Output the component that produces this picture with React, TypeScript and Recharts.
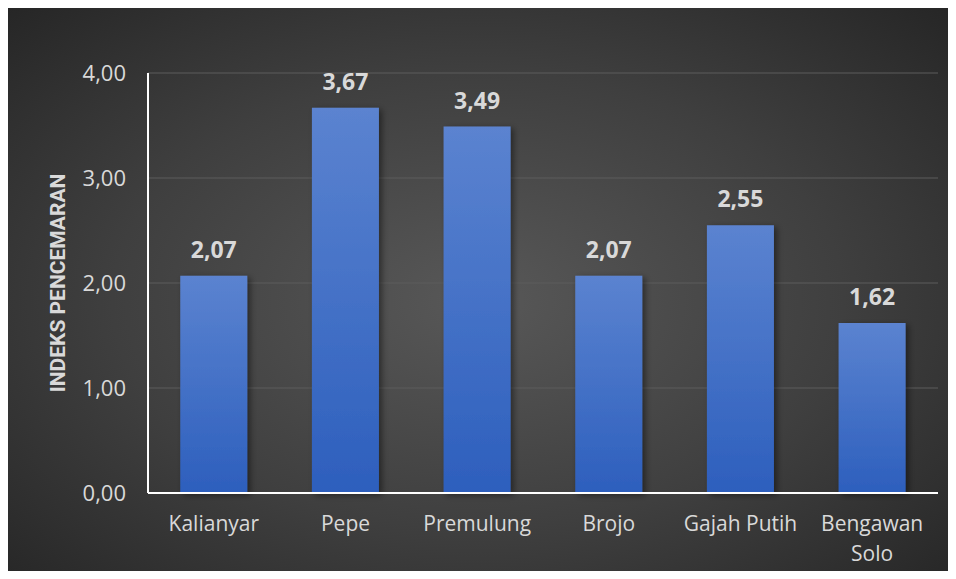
import { BarChart, Bar, CartesianGrid, XAxis, YAxis, LabelList } from 'recharts'

const categories = ['Kalianyar', 'Pepe', 'Premulung', 'Brojo', 'Gajah Putih', 'Bengawan Solo']
const pollutionIndex = [2.07, 3.67, 3.49, 2.07, 2.55, 1.62]
const yTicks = [0, 1, 2, 3, 4]

const chartData = categories.map((name, i) => ({
  name,
  value: pollutionIndex[i],
}))

const fmt = (v: number) => v.toFixed(2).replace('.', ',')

// long names wrap onto two lines, like the original
const CategoryTick = (props: any) => {
  const { x, y, payload } = props
  const label: string = payload.value
  const lines = label.length > 12 ? label.split(' ') : [label]
  return (
    <text
      x={x}
      y={y}
      textAnchor='middle'
      fill='#d9d9d9'
      fontSize={21}
      fontFamily='Open Sans'>
      {lines.map((line, i) => (
        <tspan
          key={i}
          x={x}
          dy={i === 0 ? 0 : 30}>
          {line}
        </tspan>
      ))}
    </text>
  )
}

const App = () => {
  return (
    <div
      style={{
        width: 940,
        height: 563,
        background: 'radial-gradient(ellipse at 50% 52%, #585858 0%, #3f3f3f 55%, #262626 100%)',
      }}>
      <BarChart
        width={940}
        height={563}
        data={chartData}
        barCategoryGap='24.5%'
        margin={{ top: 65, right: 10, bottom: 0, left: 0 }}>
        <defs>
          <linearGradient
            id='barFill'
            x1='0'
            y1='0'
            x2='0'
            y2='1'>
            <stop
              offset='0%'
              stopColor='#5b83d0'
            />
            <stop
              offset='100%'
              stopColor='#2d5fbd'
            />
          </linearGradient>
          <filter
            id='barShadow'
            x='-20%'
            y='-5%'
            width='150%'
            height='115%'>
            <feDropShadow
              dx='3'
              dy='2'
              stdDeviation='3'
              floodColor='#000'
              floodOpacity='0.45'
            />
          </filter>
        </defs>
        <CartesianGrid
          vertical={false}
          stroke='#5c5c5c'
          strokeWidth={1}
        />
        <XAxis
          dataKey='name'
          height={78}
          axisLine={{ stroke: '#ffffff', strokeWidth: 2 }}
          tickLine={false}
          tickSize={0}
          tickMargin={38}
          tick={<CategoryTick />}
          interval={0}
        />
        <YAxis
          width={140}
          domain={[0, 4]}
          ticks={yTicks}
          tickFormatter={fmt}
          axisLine={{ stroke: '#ffffff', strokeWidth: 2 }}
          tickLine={false}
          tickSize={0}
          tickMargin={22}
          tick={{ fill: '#d9d9d9', fontSize: 22, fontFamily: 'Open Sans' }}
          label={{
            value: 'INDEKS PENCEMARAN',
            angle: -90,
            position: 'insideLeft',
            offset: 50,
            style: {
              textAnchor: 'middle',
              fill: '#d9d9d9',
              fontSize: 21,
              fontWeight: 'bold',
              fontFamily: 'Roboto',
            },
          }}
        />
        <Bar
          dataKey='value'
          fill='url(#barFill)'
          filter='url(#barShadow)'
          isAnimationActive={false}>
          <LabelList
            dataKey='value'
            position='top'
            offset={18}
            formatter={(v: any) => fmt(Number(v))}
            style={{ fill: '#d9d9d9', fontSize: 23, fontWeight: 'bold', fontFamily: 'Open Sans' }}
          />
        </Bar>
      </BarChart>
    </div>
  )
}

export default App
